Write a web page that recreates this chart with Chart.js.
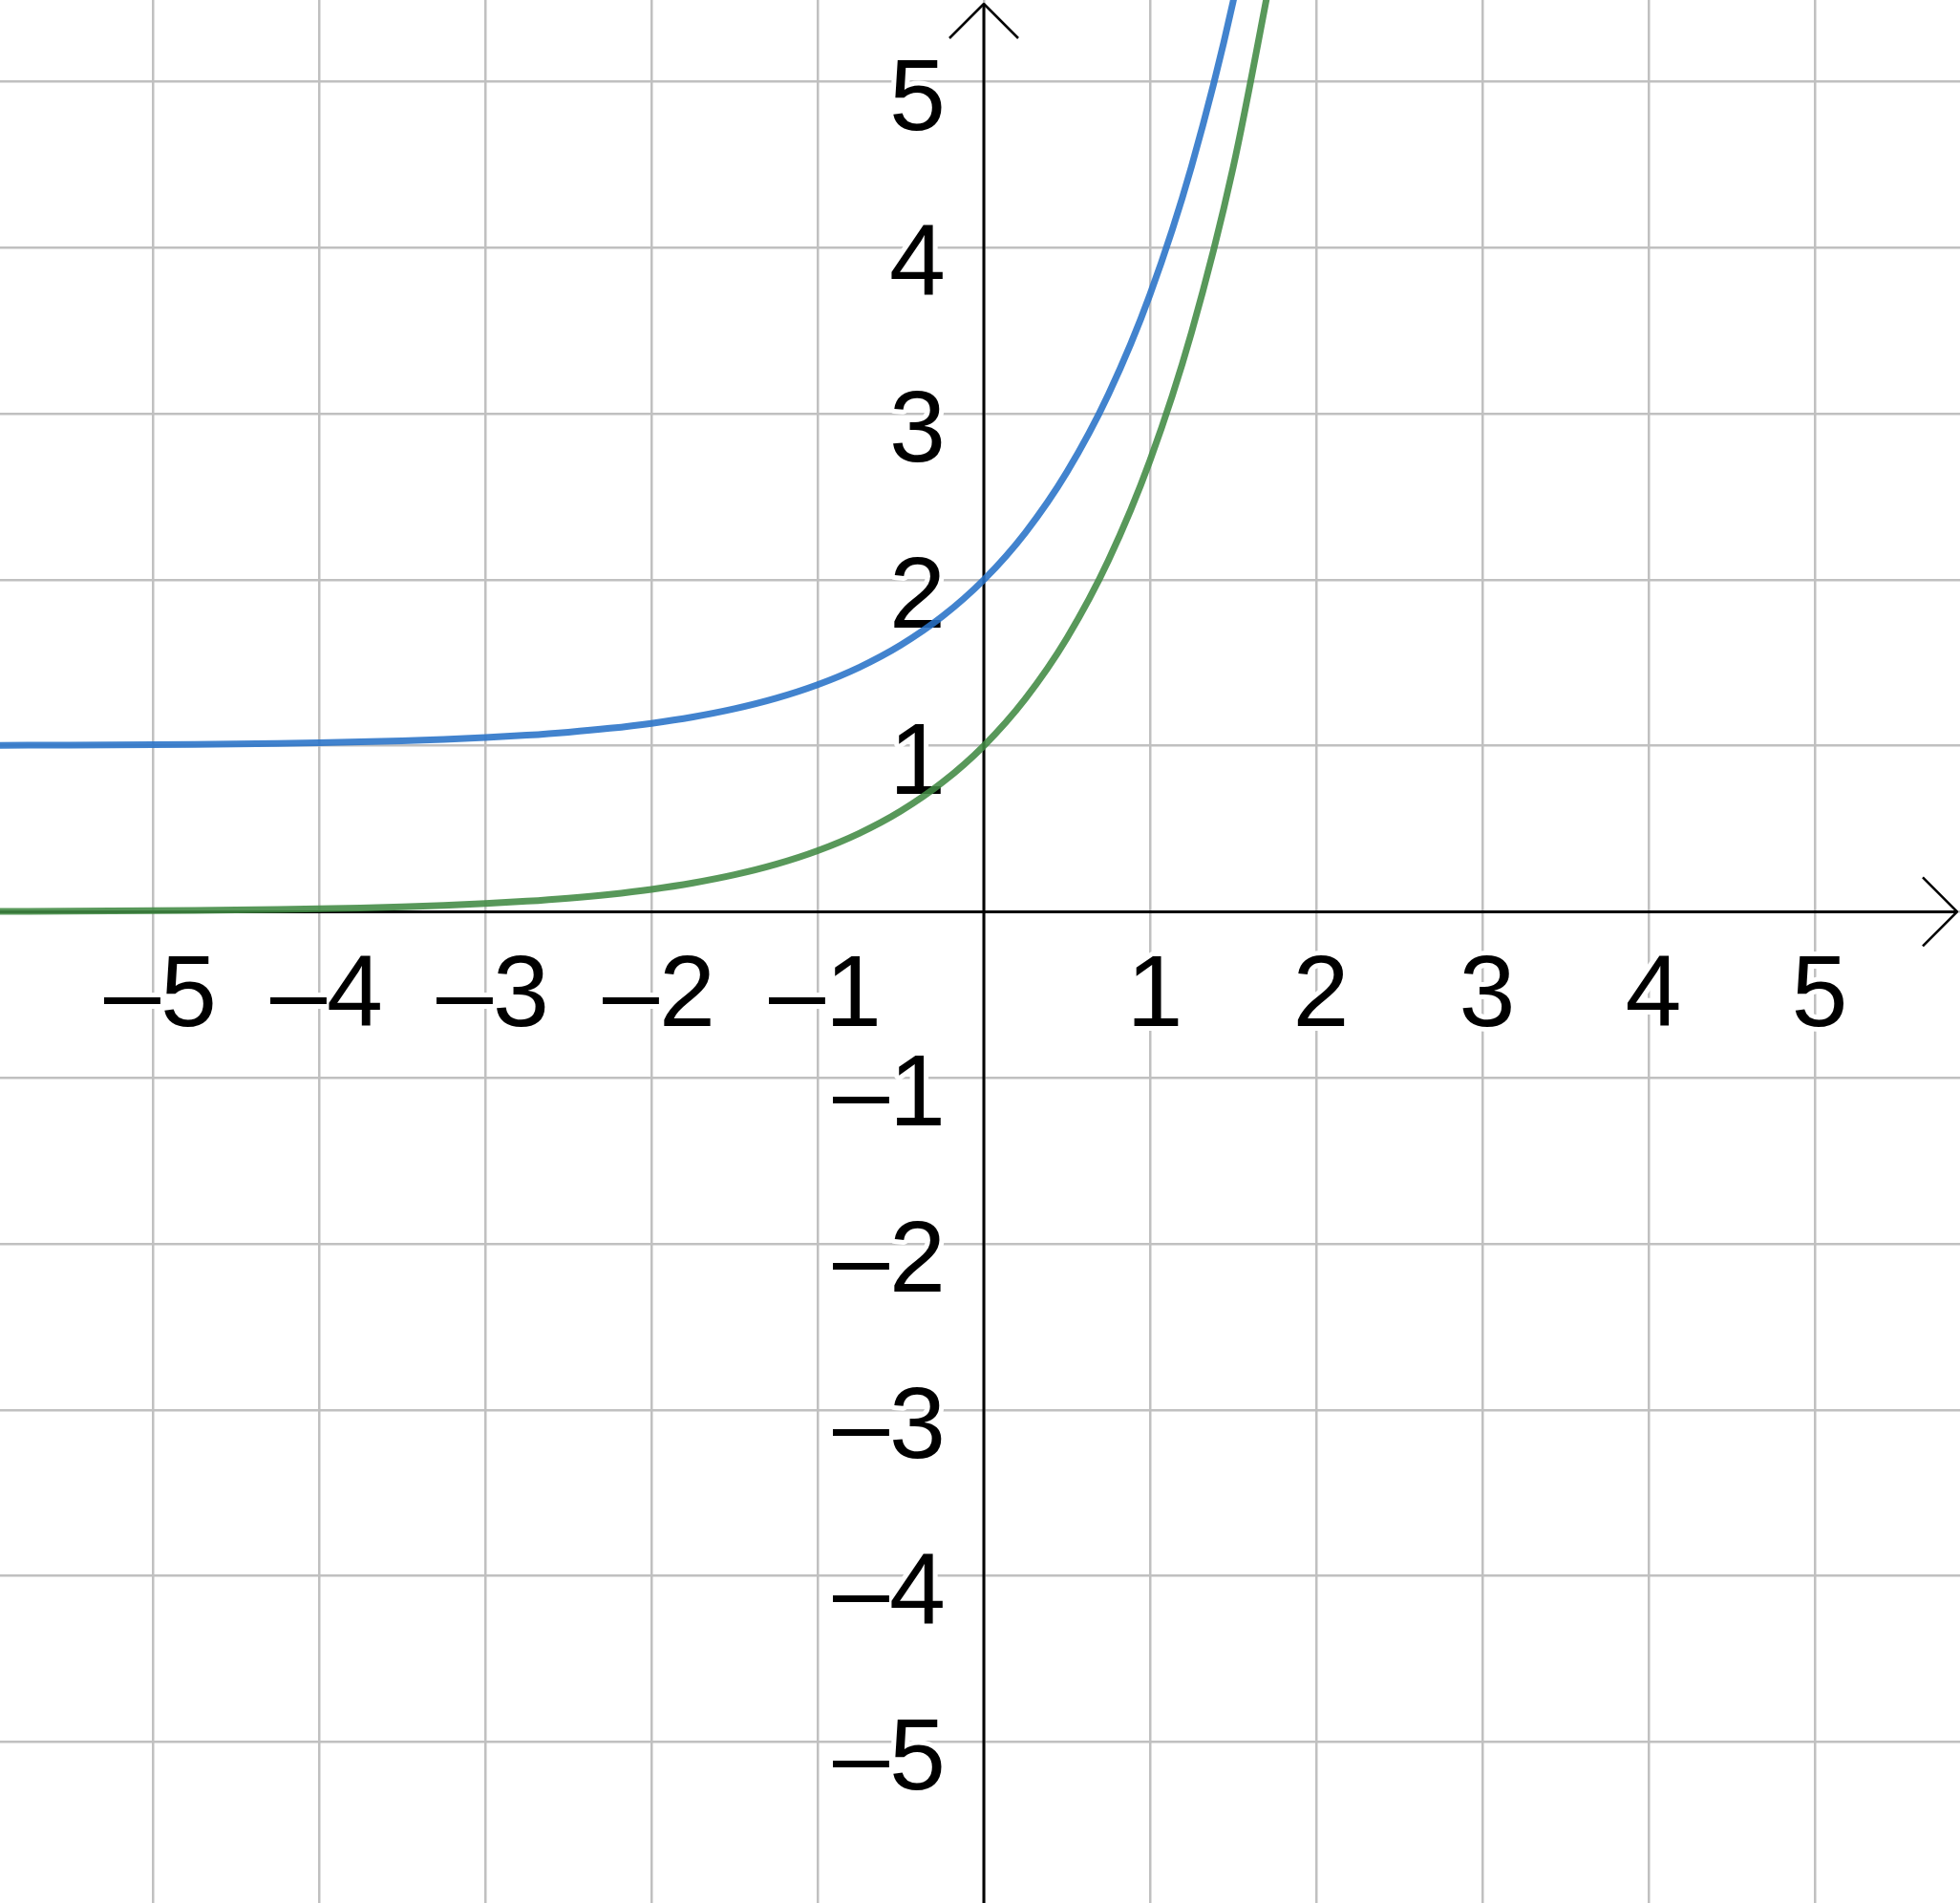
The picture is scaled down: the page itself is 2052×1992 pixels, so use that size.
<!DOCTYPE html>
<html>
<head>
<meta charset="utf-8">
<script src="https://cdn.jsdelivr.net/npm/chart.js@4"></script>
<style>
html,body{margin:0;padding:0;background:#fff;overflow:hidden;}
canvas{display:block;}
</style>
</head>
<body>
<canvas id="c" width="2052" height="1992"></canvas>
<script>
// Data
const xValues = [-6, -5.75, -5.5, -5.25, -5, -4.75, -4.5, -4.25, -4, -3.75, -3.5, -3.25, -3, -2.75, -2.5, -2.25, -2, -1.75, -1.5, -1.25, -1, -0.75, -0.5, -0.25, 0, 0.25, 0.5, 0.75, 1, 1.25, 1.5, 1.75];
const greenValues = [0.0025, 0.0032, 0.0041, 0.0052, 0.0067, 0.0087, 0.0111, 0.0143, 0.0183, 0.0235, 0.0302, 0.0388, 0.0498, 0.0639, 0.0821, 0.1054, 0.1353, 0.1738, 0.2231, 0.2865, 0.3679, 0.4724, 0.6065, 0.7788, 1.0, 1.284, 1.6487, 2.117, 2.7183, 3.4903, 4.4817, 5.7546];
const blueValues = [1.0025, 1.0032, 1.0041, 1.0052, 1.0067, 1.0087, 1.0111, 1.0143, 1.0183, 1.0235, 1.0302, 1.0388, 1.0498, 1.0639, 1.0821, 1.1054, 1.1353, 1.1738, 1.2231, 1.2865, 1.3679, 1.4724, 1.6065, 1.7788, 2.0, 2.284, 2.6487, 3.117, 3.7183, 4.4903, 5.4817, 6.7546];
const xTickValues = [-5, -4, -3, -2, -1, 1, 2, 3, 4, 5];
const xTickLabels = ['–5', '–4', '–3', '–2', '–1', '1', '2', '3', '4', '5'];
const yTickValues = [5, 4, 3, 2, 1, -1, -2, -3, -4, -5];
const yTickLabels = ['5', '4', '3', '2', '1', '–1', '–2', '–3', '–4', '–5'];
const gridValues = [-5, -4, -3, -2, -1, 0, 1, 2, 3, 4, 5];
const xRange = [-5.92, 5.874];
const yRange = [-5.97, 5.492];

const toPts = (xs, ys) => xs.map((x, i) => ({x: x, y: ys[i]}));

const axesPlugin = {
  id: 'axesPlugin',
  beforeDatasetsDraw(chart) {
    const ctx = chart.ctx;
    const xs = chart.scales.x, ys = chart.scales.y;
    const ca = chart.chartArea;
    const x0 = xs.getPixelForValue(0), y0 = ys.getPixelForValue(0);
    ctx.save();
    // tick labels with white halo
    ctx.font = '106px "Liberation Sans", Arial, sans-serif';
    ctx.lineJoin = 'round';
    ctx.lineWidth = 10;
    ctx.strokeStyle = '#ffffff';
    ctx.fillStyle = '#000000';
    ctx.textBaseline = 'alphabetic';
    ctx.textAlign = 'center';
    xTickValues.forEach((v, i) => {
      const px = xs.getPixelForValue(v) + (v < 0 ? 8 : 5), py = y0 + 120;
      ctx.strokeText(xTickLabels[i], px, py);
      ctx.fillText(xTickLabels[i], px, py);
    });
    ctx.textAlign = 'right';
    yTickValues.forEach((v, i) => {
      const px = x0 - 40, py = ys.getPixelForValue(v) + 50;
      ctx.strokeText(yTickLabels[i], px, py);
      ctx.fillText(yTickLabels[i], px, py);
    });
    // axes
    ctx.strokeStyle = '#000000';
    ctx.lineWidth = 3;
    ctx.lineCap = 'butt';
    ctx.beginPath();
    ctx.moveTo(ca.left, y0); ctx.lineTo(ca.right - 3, y0);
    ctx.moveTo(x0, ca.bottom); ctx.lineTo(x0, ca.top + 4);
    ctx.stroke();
    // arrow heads
    const a = 36;
    ctx.lineWidth = 2.5;
    ctx.beginPath();
    ctx.moveTo(ca.right - 3 - a, y0 - a); ctx.lineTo(ca.right - 3, y0); ctx.lineTo(ca.right - 3 - a, y0 + a);
    ctx.moveTo(x0 - a, ca.top + 4 + a); ctx.lineTo(x0, ca.top + 4); ctx.lineTo(x0 + a, ca.top + 4 + a);
    ctx.stroke();
    ctx.restore();
  }
};

new Chart(document.getElementById('c'), {
  type: 'scatter',
  data: {
    datasets: [
      {
        label: 'blue',
        data: toPts(xValues, blueValues),
        showLine: true,
        borderColor: 'rgba(40,114,199,0.88)',
        borderWidth: 7,
        pointRadius: 0,
        cubicInterpolationMode: 'monotone',
        borderCapStyle: 'round'
      },
      {
        label: 'green',
        data: toPts(xValues, greenValues),
        showLine: true,
        borderColor: 'rgba(65,138,67,0.88)',
        borderWidth: 7,
        pointRadius: 0,
        cubicInterpolationMode: 'monotone',
        borderCapStyle: 'round'
      }
    ]
  },
  options: {
    responsive: false,
    devicePixelRatio: 1,
    animation: false,
    layout: {padding: 0},
    plugins: {legend: {display: false}, tooltip: {enabled: false}, title: {display: false}},
    scales: {
      x: {
        type: 'linear',
        min: xRange[0], max: xRange[1],
        afterBuildTicks: s => { s.ticks = gridValues.map(v => ({value: v})); },
        ticks: {display: false},
        grid: {color: '#c0c0c0', lineWidth: 2.5, drawTicks: false},
        border: {display: false}
      },
      y: {
        type: 'linear',
        min: yRange[0], max: yRange[1],
        afterBuildTicks: s => { s.ticks = gridValues.map(v => ({value: v})); },
        ticks: {display: false},
        grid: {color: '#c0c0c0', lineWidth: 2.5, drawTicks: false},
        border: {display: false}
      }
    }
  },
  plugins: [axesPlugin]
});
</script>
</body>
</html>
